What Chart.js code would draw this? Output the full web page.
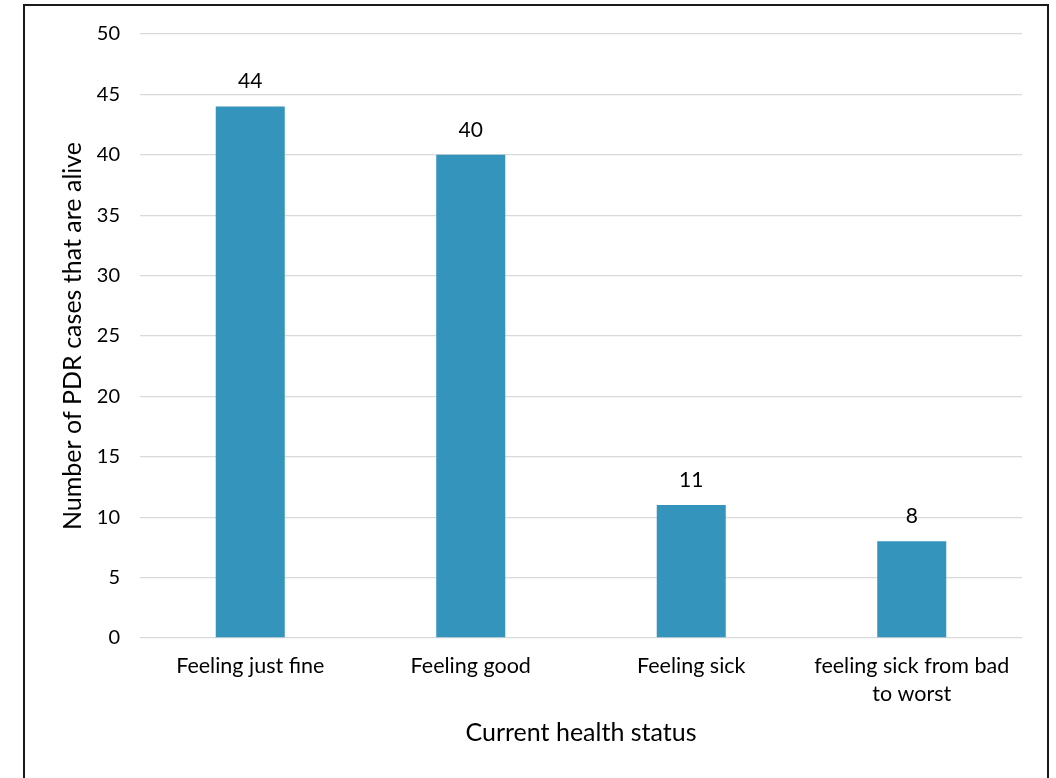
<!DOCTYPE html>
<html>
<head>
<meta charset="utf-8">
<script src="https://cdn.jsdelivr.net/npm/chart.js@4"></script>
<style>
html,body{margin:0;padding:0;background:#fff;}
#wrap{position:relative;width:1056px;height:778px;}
</style>
</head>
<body>
<div id="wrap"><canvas id="c" width="1056" height="778"></canvas></div>
<script>
const categories = ["Feeling just fine", "Feeling good", "Feeling sick", ["feeling sick from bad", "to worst"]];
const values = [44, 40, 11, 8];
const yTicks = [0, 5, 10, 15, 20, 25, 30, 35, 40, 45, 50];
const xTitle = "Current health status";
const yTitle = "Number of PDR cases that are alive";

const FONT = "Lato, 'Open Sans', sans-serif";

const frame = {
  id: 'frame',
  beforeDraw(chart) {
    const ctx = chart.ctx;
    ctx.save();
    ctx.fillStyle = '#fff';
    ctx.fillRect(0, 0, chart.width, chart.height);
    ctx.strokeStyle = '#1a1a1a';
    ctx.lineWidth = 2;
    ctx.strokeRect(24, 5, 1024, 800);
    ctx.restore();
  }
};

const valueLabels = {
  id: 'valueLabels',
  afterDatasetsDraw(chart) {
    const ctx = chart.ctx;
    const meta = chart.getDatasetMeta(0);
    ctx.save();
    ctx.font = "21px " + FONT;
    ctx.fillStyle = '#000';
    ctx.textAlign = 'center';
    ctx.textBaseline = 'alphabetic';
    meta.data.forEach((bar, i) => {
      ctx.fillText(String(values[i]), bar.x, bar.y - 18);
    });
    ctx.restore();
  }
};

new Chart(document.getElementById('c'), {
  type: 'bar',
  data: {
    labels: categories,
    datasets: [{
      data: values,
      backgroundColor: '#3594BB',
      borderWidth: 0,
      barPercentage: 0.313,
      categoryPercentage: 1.0
    }]
  },
  options: {
    responsive: false,
    animation: false,
    devicePixelRatio: 1,
    layout: { padding: { left: 40, right: 34, top: 34, bottom: 0 } },
    plugins: { legend: { display: false }, tooltip: { enabled: false } },
    scales: {
      x: {
        grid: { display: false, drawTicks: false },
        border: { display: false },
        ticks: {
          color: '#000',
          font: { family: FONT, size: 21.5, lineHeight: 1.3 },
          padding: 14,
          maxRotation: 0,
          autoSkip: false
        },
        title: {
          display: true,
          text: xTitle,
          color: '#000',
          font: { family: FONT, size: 25 },
          padding: { top: 0, bottom: 30 }
        },
        afterFit(scale) { scale.height = 778 - 638; }
      },
      y: {
        min: 0,
        max: 50,
        afterBuildTicks(scale) { scale.ticks = yTicks.map(v => ({ value: v })); },
        grid: { color: '#D9D9D9', lineWidth: 1.3, drawTicks: false },
        border: { display: false },
        ticks: {
          color: '#000',
          font: { family: FONT, size: 20 },
          padding: 20
        },
        title: {
          display: true,
          text: yTitle,
          color: '#000',
          font: { family: FONT, size: 25 },
          padding: { top: 18, bottom: 0 }
        },
        afterFit(scale) { scale.width = 100; }
      }
    }
  },
  plugins: [frame, valueLabels]
});
</script>
</body>
</html>
